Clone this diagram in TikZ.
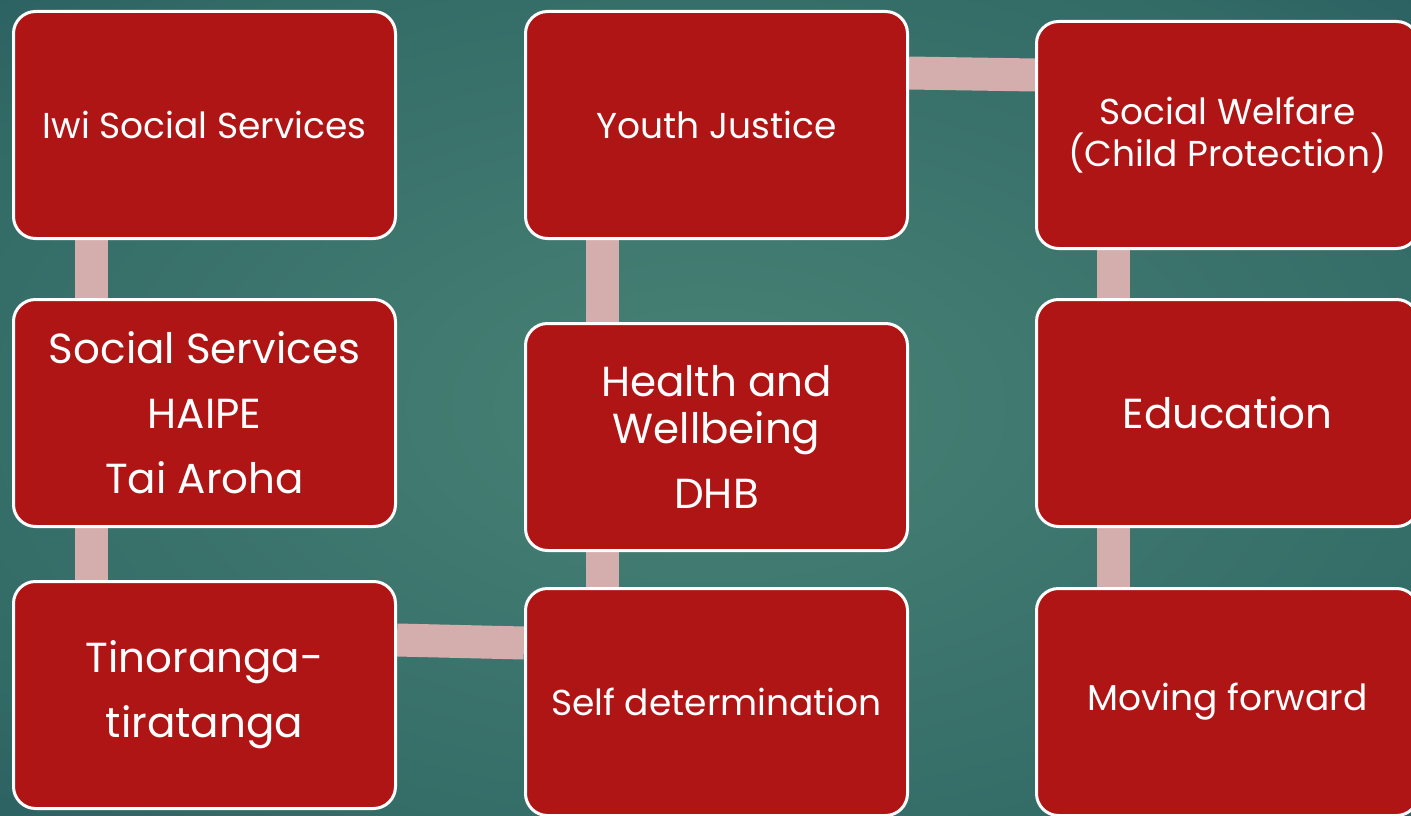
\documentclass[tikz,border=0pt]{standalone}
\usepackage{fontspec}
\setmainfont{Poppins}
\usetikzlibrary{positioning}
\usetikzlibrary{backgrounds}
\definecolor{boxred}{RGB}{175,21,21}
\definecolor{barpink}{RGB}{212,173,173}
\definecolor{bgin}{RGB}{72,130,117}
\definecolor{bgmid}{RGB}{50,106,102}
\definecolor{bgout}{RGB}{29,77,88}
\pgfdeclareradialshading{bgshade}{\pgfpoint{0bp}{0bp}}{color(0bp)=(bgin); color(30bp)=(bgmid); color(50bp)=(bgout)}

\begin{document}
\begin{tikzpicture}[x=1pt,y=-1pt, box/.style={rectangle,rounded corners=22pt,draw=white,line width=3pt,fill=boxred,text=white,minimum width=382pt,minimum height=227pt,align=center,inner sep=0pt}, bar/.style={barpink,line width=33pt}, small/.style={font=\fontsize{36}{42}\selectfont}, big/.style={font=\fontsize{42}{65}\selectfont}]
		\useasboundingbox (0,0) rectangle (1411,816);
		\node[box,small] (iwi) at (204.5,125) {Iwi Social Services};
		\node[box,big] (socserv)[below = 58pt of iwi]{Social Services\\HAIPE\\Tai Aroha};
		\node[box,big] (tino)[below = 52pt of socserv]{Tinoranga-\\tiratanga};
		\node[box,small] (youth) at (716.5,125) {Youth Justice};
		\node[box,big,font=\fontsize{42}{47}\selectfont] (health)[below = 82pt of youth]{Health and\\Wellbeing\\[18pt]DHB};
		\node[box,small] (selfdet)[below = 35pt of health]{Self determination};
		\node[box,small] (welfare) at (1227.5,135) {Social Welfare\\(Child Protection)};
		\node[box,big] (edu)[below = 48pt of welfare]{Education};
		\node[box,small] (moving)[below = 59pt of edu]{Moving forward};
		\begin{scope}[on background layer]
		\shade[shading=bgshade] (0,0) rectangle (1411,816);
		\draw[bar] ([xshift=79pt]iwi.south west) -- ([xshift=79pt]socserv.north west);
		\draw[bar] ([xshift=79pt]socserv.south west) -- ([xshift=79pt]tino.north west);
		\draw[bar] ([yshift=-60pt]tino.north east) -- ([yshift=-56pt]selfdet.north west);
		\draw[bar] ([xshift=78pt]selfdet.north west) -- ([xshift=78pt]health.south west);
		\draw[bar] ([xshift=78pt]health.north west) -- ([xshift=78pt]youth.south west);
		\draw[bar] ([yshift=-63pt]youth.north east) -- ([yshift=-55pt]welfare.north west);
		\draw[bar] ([xshift=78pt]welfare.south west) -- ([xshift=78pt]edu.north west);
		\draw[bar] ([xshift=78pt]edu.south west) -- ([xshift=78pt]moving.north west);
		\end{scope}
	\end{tikzpicture}
\end{document}
